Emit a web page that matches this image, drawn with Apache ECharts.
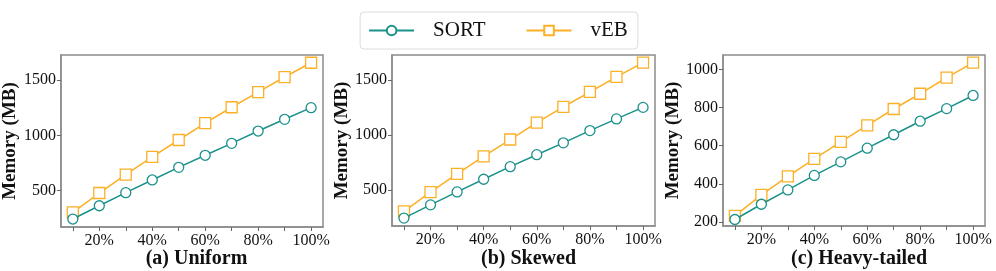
<!DOCTYPE html>
<html>
<head>
<meta charset="utf-8">
<script src="https://cdn.jsdelivr.net/npm/echarts@6/dist/echarts.min.js"></script>
<style>
  html, body { margin: 0; padding: 0; background: #fff; }
  #chart { width: 996px; height: 271px; }
</style>
</head>
<body>
<div id="chart"></div>
<script>
// data
const ratios = [10, 20, 30, 40, 50, 60, 70, 80, 90, 100];
const labelTicks = [20, 40, 60, 80, 100];
const panelTitles = ['(a) Uniform', '(b) Skewed', '(c) Heavy-tailed'];

const sortUniform = [244, 364, 482, 597, 711, 820, 928, 1039, 1145, 1250];
const vebUniform = [305, 479, 645, 805, 958, 1111, 1254, 1390, 1527, 1656];
const sortSkewed = [244, 364, 482, 597, 711, 820, 928, 1039, 1145, 1250];
const vebSkewed = [305, 479, 645, 805, 958, 1111, 1254, 1390, 1527, 1656];
const sortHeavy = [213, 293, 368, 444, 515, 587, 657, 728, 794, 863];
const vebHeavy = [232, 342, 439, 531, 620, 706, 792, 872, 956, 1035];

const yTicksAB = [500, 1000, 1500];
const yTicksC = [200, 400, 600, 800, 1000];

const TEAL = '#1b918c';
const ORANGE = '#fcb026';
const FONT = '"Liberation Serif", serif';

const grids = [
  { left: 60, top: 55, width: 263, height: 172 },
  { left: 392, top: 55, width: 263, height: 171 },
  { left: 723, top: 55, width: 262, height: 171 }
];
const yRanges = [[172, 1726], [172, 1726], [179, 1075]];
const yTicks = [yTicksAB, yTicksAB, yTicksC];
const seriesData = [[sortUniform, vebUniform], [sortSkewed, vebSkewed], [sortHeavy, vebHeavy]];

const pair = arr => arr.map((v, i) => [ratios[i], v]);

const chart = echarts.init(document.getElementById('chart'));

const option = {
  backgroundColor: '#fff',
  animation: false,
  textStyle: { fontFamily: FONT },
  grid: grids.map(g => Object.assign({
    show: true, borderColor: '#8c8c8c', borderWidth: 1.5, backgroundColor: 'transparent'
  }, g)),
  title: grids.map((g, i) => ({
    text: panelTitles[i],
    left: g.left + g.width / 2,
    top: 244,
    textAlign: 'center',
    textStyle: { fontFamily: FONT, fontWeight: 'bold', fontSize: 20, color: '#111' }
  })),
  legend: {
    data: ['SORT', 'vEB'],
    top: 12,
    left: 'center',
    itemWidth: 45,
    itemHeight: 12,
    itemGap: 40,
    padding: [8, 10, 8, 8],
    borderColor: '#dcdcdc',
    borderWidth: 1,
    borderRadius: 4,
    textStyle: { fontFamily: FONT, fontSize: 21, color: '#111', padding: [0, 0, 0, 14] }
  },
  xAxis: grids.map((g, i) => ({
    type: 'value',
    gridIndex: i,
    min: 5.5,
    max: 104.5,
    splitLine: { show: false },
    axisLine: { show: true, onZero: false, lineStyle: { color: '#8c8c8c', width: 1.5 } },
    axisTick: { show: true, length: 4, customValues: ratios, lineStyle: { color: '#666' } },
    axisLabel: {
      customValues: labelTicks,
      formatter: v => v + '%',
      fontFamily: FONT, fontSize: 16, color: '#111', margin: 6
    }
  })),
  yAxis: grids.map((g, i) => ({
    type: 'value',
    gridIndex: i,
    min: yRanges[i][0],
    max: yRanges[i][1],
    name: 'Memory (MB)',
    nameLocation: 'middle',
    nameGap: 38,
    nameTextStyle: { fontFamily: FONT, fontWeight: 'bold', fontSize: 19, color: '#111' },
    splitLine: { show: false },
    axisLine: { show: true, onZero: false, lineStyle: { color: '#8c8c8c', width: 1.5 } },
    axisTick: { show: true, length: 4, customValues: yTicks[i], lineStyle: { color: '#666' } },
    axisLabel: {
      customValues: yTicks[i],
      formatter: v => String(v),
      fontFamily: FONT, fontSize: 16, color: '#111', margin: 5
    }
  })),
  series: []
};

seriesData.forEach((pairOfSeries, i) => {
  option.series.push({
    name: 'SORT',
    type: 'line',
    xAxisIndex: i,
    yAxisIndex: i,
    data: pair(pairOfSeries[0]),
    symbol: 'circle',
    symbolSize: 10,
    color: TEAL,
    lineStyle: { color: TEAL, width: 1.5 },
    itemStyle: { color: '#fff', borderColor: TEAL, borderWidth: 1.3 },
    z: 3
  });
  option.series.push({
    name: 'vEB',
    type: 'line',
    xAxisIndex: i,
    yAxisIndex: i,
    data: pair(pairOfSeries[1]),
    symbol: 'rect',
    symbolSize: 11,
    color: ORANGE,
    lineStyle: { color: ORANGE, width: 1.5 },
    itemStyle: { color: '#fff', borderColor: ORANGE, borderWidth: 1.3 },
    z: 2
  });
});

chart.setOption(option);
</script>
</body>
</html>
